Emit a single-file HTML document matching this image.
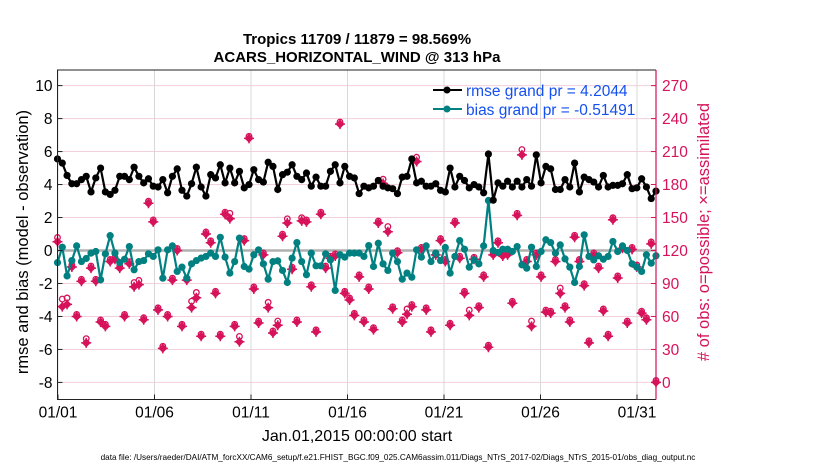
<!DOCTYPE html>
<html><head><meta charset="utf-8"><style>
body{margin:0;background:#fff;width:830px;height:470px;overflow:hidden;font-family:"Liberation Sans",sans-serif}
svg text{font-family:"Liberation Sans",sans-serif}
</style></head><body>
<svg id="chart" width="830" height="470" xmlns="http://www.w3.org/2000/svg">
<text x="357" y="44" text-anchor="middle" font-size="15" font-weight="bold">Tropics 11709 / 11879 = 98.569%</text>
<text x="357" y="62" text-anchor="middle" font-size="15" font-weight="bold">ACARS_HORIZONTAL_WIND @ 313 hPa</text>
<g id="grid"></g><g id="series"></g><g id="axes"></g>
<text transform="translate(28,242) rotate(-90)" text-anchor="middle" font-size="16.5">rmse and bias (model - observation)</text>
<text transform="translate(709,232) rotate(-90)" text-anchor="middle" font-size="16.5" fill="#d6125a"># of obs: o=possible; ×=assimilated</text>
<text x="357" y="441" text-anchor="middle" font-size="16">Jan.01,2015 00:00:00 start</text>
<text x="398" y="460" text-anchor="middle" font-size="8.2">data file: /Users/raeder/DAI/ATM_forcXX/CAM6_setup/f.e21.FHIST_BGC.f09_025.CAM6assim.011/Diags_NTrS_2017-02/Diags_NTrS_2015-01/obs_diag_output.nc</text>
<g>
<line x1="433" y1="90" x2="462" y2="90" stroke="#000" stroke-width="2"/><circle cx="447" cy="90" r="3.5" fill="#000"/>
<text x="466" y="96" font-size="15.5" fill="#1450f0">rmse grand pr = 4.2044</text>
<line x1="433" y1="109" x2="462" y2="109" stroke="#008080" stroke-width="2"/><circle cx="447" cy="109" r="3.5" fill="#008080"/>
<text x="466" y="115" font-size="15.5" fill="#1450f0">bias grand pr = -0.51491</text>
</g>
</svg>
<script>
const rmse=[5.55,5.3,4.55,4.05,4.05,4.3,4.5,3.55,4.4,5.0,3.55,3.4,3.65,4.5,4.5,4.3,5.05,4.5,4.1,4.35,3.9,3.85,4.3,3.5,4.5,4.95,3.65,3.3,4.05,5.05,3.85,3.3,
4.6,4.4,5.2,4.1,5.0,4.1,4.8,3.8,4.0,4.9,4.3,4.15,5.35,5.1,3.7,4.6,4.75,5.2,4.5,4.3,4.7,3.9,4.45,3.9,3.9,4.8,5.2,4.1,5.1,4.5,4.4,
3.45,3.9,3.8,3.9,4.25,3.9,3.8,3.75,3.45,4.45,4.5,5.55,4.1,4.2,3.9,3.9,4.05,3.65,3.55,5.0,3.85,4.5,4.25,3.8,4.0,3.85,3.5,5.85,3.05,4.1,3.9,
4.2,3.85,4.2,3.85,4.3,3.9,5.8,4.1,5.1,4.95,3.7,3.7,4.3,3.85,5.3,3.55,4.45,4.3,4.15,3.85,4.55,3.85,3.95,3.95,4.05,4.6,3.75,3.8,4.35,3.85,3.15,3.6];
const bias=[-0.73,0.2,-1.54,-0.61,0.28,-0.67,-0.48,-0.16,-0.06,-1.78,-0.2,0.9,-0.16,-0.73,-0.53,0.24,-1.17,-0.67,-0.61,-0.2,-0.36,0.04,-1.68,0.04,0.28,-1.27,-1.01,-1.68,-0.81,-0.61,-0.46,-0.36,
-0.16,-0.36,0.8,-0.4,-1.37,-0.67,0.75,-0.97,-1.13,-0.26,0.04,-0.81,-1.74,-0.67,-0.63,-1.21,-1.94,-0.46,0.48,-0.67,-1.47,-0.16,-0.93,-0.93,-0.2,-0.57,-2.42,-0.26,-0.4,-0.16,-0.16,
-0.16,-0.36,0.3,-0.97,0.44,-0.81,-1.21,-0.16,-0.67,-1.74,-1.37,-1.62,0.04,-0.4,0.28,-0.67,-0.16,-0.61,0.18,-1.37,-0.36,0.6,0.08,-1.01,-0.57,-0.81,0.28,3.03,0.0,-0.12,0.08,
0.08,-0.06,0.24,-0.87,-1.07,0.2,-0.97,-0.06,0.65,0.48,-0.16,0.34,-0.51,-1.01,-1.94,-0.97,0.95,-0.36,-0.57,-0.32,-0.53,-0.36,0.55,-0.06,0.28,0.0,-0.81,-1.01,-1.27,-0.26,-0.77,-0.32];
const nAssim=[128,69,71,105,60,92,36,104,92,55,51,110,112,104,60,108,87,89,57,163,146,66,31,60,93,120,51,93,68,77,42,135,
127,81,42,153,149,51,37,129,222,85,54,116,68,45,52,133,145,103,55,147,146,87,46,153,104,113,115,235,81,75,61,
96,55,85,48,145,181,137,67,118,55,62,69,201,121,66,46,116,129,110,52,145,113,81,61,112,68,96,32,116,127,115,
116,72,152,207,110,51,116,96,64,63,110,81,68,55,132,110,88,36,116,104,65,42,148,95,122,54,121,105,63,57,126,0];
const nPoss=[130,74,75,105,60,92,38,104,92,55,51,110,112,104,60,108,89,91,57,163,146,66,31,60,93,120,51,93,72,80,42,135,
127,81,42,153,152,51,40,129,222,85,54,116,71,45,54,133,147,103,55,148,146,87,46,153,104,113,115,235,81,75,61,
96,55,85,48,145,183,140,67,118,55,65,69,203,121,66,46,116,129,110,52,145,113,81,64,112,68,96,32,116,127,115,
116,72,152,210,110,54,116,96,64,63,110,84,68,55,132,110,88,36,116,104,65,42,148,95,122,54,121,105,63,57,126,0];
const xTicks=["01/01","01/06","01/11","01/16","01/21","01/26","01/31"];
const xTickDays=[1,6,11,16,21,26,31];
const leftTicks=[-8,-6,-4,-2,0,2,4,6,8,10];
const rightTicks=[0,30,60,90,120,150,180,210,240,270];

const NS="http://www.w3.org/2000/svg";
const L=57.5,R=656,T=70,B=399.5;
const yL=v=>250.5-v*16.49;
const yR=c=>yL(c/15-8);
const xDay=d=>58+(d-1)*19.3;
const xIdx=i=>57.5+i*(R-57.5)/(rmse.length-1);
function mk(tag,attrs,parent){const e=document.createElementNS(NS,tag);for(const k in attrs)e.setAttribute(k,attrs[k]);parent.appendChild(e);return e;}
const grid=document.getElementById('grid'),ser=document.getElementById('series'),ax=document.getElementById('axes');
mk('rect',{x:L,y:T,width:R-L,height:B-T,fill:'#fff'},grid);
leftTicks.forEach(v=>{const l=mk('line',{x1:L,x2:R,y1:yL(v),y2:yL(v),stroke:'#f3cfdc','stroke-width':1},grid);

});
xTickDays.forEach(d=>{const l=mk('line',{x1:xDay(d),x2:xDay(d),y1:T,y2:B,stroke:'#d8d8d8','stroke-width':1},grid);

});
const z=mk('line',{x1:L,x2:R,y1:yL(0),y2:yL(0),stroke:'#b0b0b0','stroke-width':2.5},grid);


nPoss.forEach((c,i)=>{const e=mk('circle',{cx:xIdx(i),cy:yR(c)-2,r:2.8,fill:'none',stroke:'#d6125a','stroke-width':1.3},ser);

});
nAssim.forEach((c,i)=>{const x=xIdx(i),y=yR(c);
const g=mk('g',{},ser);


mk('path',{d:`M${x-4.5} ${y}L${x} ${y-4.5}L${x+4.5} ${y}L${x} ${y+4.5}Z`,fill:'#d6125a'},g);
mk('path',{d:`M${x-5} ${y}H${x+5}M${x} ${y-5}V${y+5}`,stroke:'#d6125a','stroke-width':1.5},g);});
function line(arr,col,name){
const p=mk('polyline',{points:arr.map((v,i)=>xIdx(i)+','+yL(v)).join(' '),fill:'none',stroke:col,'stroke-width':2.2},ser);


arr.forEach((v,i)=>{const c=mk('circle',{cx:xIdx(i),cy:yL(v),r:3.6,fill:col},ser);

});}
line(bias,'#008080','bias');
line(rmse,'#000','rmse');
mk('path',{d:`M${R} ${T}H${L}V${B}H${R}`,fill:'none',stroke:'#222','stroke-width':1},ax);
mk('line',{x1:R,x2:R,y1:T,y2:B,stroke:'#d6125a','stroke-width':1.2},ax);
leftTicks.forEach(v=>{mk('line',{x1:L,x2:L+5,y1:yL(v),y2:yL(v),stroke:'#222'},ax);
const t=mk('text',{x:L-5,y:yL(v)+5.5,'text-anchor':'end','font-size':15.5},ax);t.textContent=v;

});
rightTicks.forEach(v=>{mk('line',{x1:R-5,x2:R,y1:yR(v),y2:yR(v),stroke:'#d6125a'},ax);
const t=mk('text',{x:R+6,y:yR(v)+5.5,'font-size':15.5,fill:'#d6125a'},ax);t.textContent=v;

});
xTicks.forEach((s,k)=>{const x=xDay(xTickDays[k]);mk('line',{x1:x,x2:x,y1:B,y2:B-5,stroke:'#222'},ax);
const t=mk('text',{x:x,y:B+18,'text-anchor':'middle','font-size':15.5},ax);t.textContent=s;

});
</script>
</body></html>
